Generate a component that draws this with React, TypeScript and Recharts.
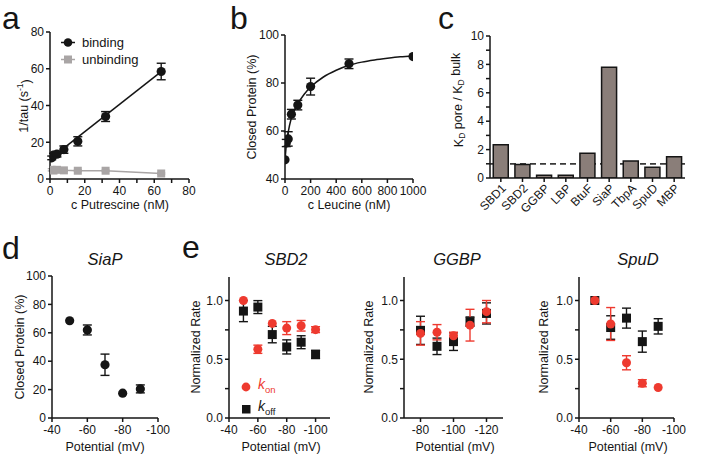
import React from 'react';
import {
  ComposedChart,
  Scatter,
  XAxis,
  YAxis,
  ErrorBar,
  BarChart,
  Bar,
  ReferenceLine,
  Legend,
} from 'recharts';

const FONT = '"Liberation Sans", Arial, Helvetica, sans-serif';
const INK = '#151515';
const RED = '#ee3a2f';
const GRAY = '#a9a5a5';
const BAR_FILL = '#8a7e79';

// ---------- Panel a: putrescine ----------
const putrescineNM = [1, 2, 4, 8, 16, 32, 64];
const bindingRate = [11.5, 13, 13.5, 16, 20.5, 34, 58.5];
const bindingErr = [1, 1, 1.5, 2, 2.5, 2.7, 4.5];
const unbindingRate = [5, 4.6, 5, 4.7, 4.5, 4.5, 3];
const unbindingErr = [0.6, 0.5, 0.5, 0.5, 0.4, 0.4, 0.4];
const bindingFitNM = [1, 64];
const bindingFitRate = [11.6, 58.4];
const putrescineTicks = [0, 10, 20, 30, 40, 50, 60, 70, 80];
const rateTicksA = [0, 20, 40, 60, 80];

// ---------- Panel b: leucine ----------
const leucineNM = [0, 10, 25, 50, 100, 200, 500, 1000];
const closedLeu = [48, 55, 56.7, 67, 70.8, 78.5, 88, 91];
const closedLeuErr = [0, 1.5, 3, 2, 2, 3.5, 2, 0];
const leuFitNM = [0, 10, 25, 50, 100, 150, 200, 300, 400, 500, 600, 700, 800, 900, 1000];
const leuFitClosed = [48, 54, 59.5, 65.5, 71.3, 75.3, 78.3, 82.5, 85.3, 87.4, 88.7, 89.6, 90.3, 90.9, 91.3];
const leucineTicks = [0, 200, 400, 600, 800, 1000];
const closedTicksB = [40, 60, 80, 100];

// ---------- Panel c: KD ratio ----------
const proteins = ['SBD1', 'SBD2', 'GGBP', 'LBP', 'BtuF', 'SiaP', 'TbpA', 'SpuD', 'MBP'];
const kdRatio = [2.35, 0.95, 0.2, 0.2, 1.75, 7.8, 1.2, 0.75, 1.5];
const kdTicks = [0, 1, 2, 3, 4, 5, 6, 7, 8, 9, 10];

// ---------- Panel d: SiaP ----------
const siapPotential = [-50, -60, -70, -80, -90];
const siapClosed = [68.5, 62, 37.5, 17.5, 20.5];
const siapErr = [0, 3.5, 7.5, 0, 2.8];
const potentialTicksD = [-40, -60, -80, -100];
const closedTicksD = [0, 20, 40, 60, 80, 100];

// ---------- Panel e ----------
const sbd2Potential = [-50, -60, -70, -80, -90, -100];
const sbd2Kon = [1.0, 0.585, 0.805, 0.765, 0.785, 0.752];
const sbd2KonErr = [0, 0.035, 0, 0.055, 0.045, 0.025];
const sbd2Koff = [0.91, 0.944, 0.71, 0.605, 0.645, 0.541];
const sbd2KoffErr = [0.09, 0.055, 0.07, 0.06, 0.055, 0.035];

const ggbpPotential = [-80, -90, -100, -110, -120];
const ggbpKon = [0.72, 0.73, 0.7, 0.79, 0.905];
const ggbpKonErr = [0.1, 0.065, 0.03, 0.135, 0.095];
const ggbpKoff = [0.746, 0.61, 0.65, 0.82, 0.89];
const ggbpKoffErr = [0.12, 0.07, 0.075, 0.04, 0.09];

const spudPotential = [-50, -60, -70, -80, -90];
const spudKon = [1.0, 0.8, 0.47, 0.296, 0.26];
const spudKonErr = [0, 0.14, 0.06, 0.03, 0];
const spudKoff = [1.0, 0.77, 0.85, 0.65, 0.78];
const spudKoffErr = [0, 0.1, 0.085, 0.09, 0.065];

const rateTicks = [0, 0.25, 0.5, 0.75, 1.0];
const rateMajor = [0, 0.5, 1.0];

// ---------- helpers ----------
type Pt = { x: number; y: number; e: number };
const zip = (xs: number[], ys: number[], es?: number[]): Pt[] =>
  xs.map((x, i) => ({ x, y: ys[i], e: es ? es[i] : 0 }));

type Rect = { x0: number; y0: number; x1: number; y1: number };
const YW = 34;
const PT = 10;
const PR = 18;
const PB = 4;
const PL = 0;
const boxFor = (r: Rect, xh: number) => ({
  left: r.x0 - YW - PL,
  top: r.y0 - PT,
  width: r.x1 - r.x0 + YW + PL + PR,
  height: r.y1 - r.y0 + PT + PB + xh,
});
const MARGIN = { top: PT, right: PR, bottom: PB, left: PL };

const axisLine = { stroke: INK, strokeWidth: 1.5 };
const tickLine = { stroke: INK, strokeWidth: 1.5 };
const tickStyle = { fontSize: 12, fill: INK, fontFamily: FONT };

const circleShape = (fill: string, r = 4.5) => (p: any) =>
  p.cx == null ? <g /> : <circle cx={p.cx} cy={p.cy} r={r} fill={fill} />;
const squareShape = (fill: string, s = 9) => (p: any) =>
  p.cx == null ? <g /> : <rect x={p.cx - s / 2} y={p.cy - s / 2} width={s} height={s} fill={fill} />;
const noShape = () => <g />;

// ---------- Panel a ----------
function PanelA() {
  const r: Rect = { x0: 50, y0: 32, x1: 189, y1: 179 };
  const b = boxFor(r, 24);
  const legend = () => (
    <div style={{ fontFamily: FONT, fontSize: 13, color: INK, lineHeight: '17px' }}>
      <div style={{ display: 'flex', alignItems: 'center' }}>
        <svg width={16} height={17}>
          <line x1={1} x2={15} y1={8.5} y2={8.5} stroke={INK} strokeWidth={1.5} />
          <circle cx={8} cy={8.5} r={4.3} fill={INK} />
        </svg>
        <span style={{ marginLeft: 6 }}>binding</span>
      </div>
      <div style={{ display: 'flex', alignItems: 'center' }}>
        <svg width={16} height={17}>
          <line x1={1} x2={15} y1={8.5} y2={8.5} stroke={GRAY} strokeWidth={1.5} />
          <rect x={4} y={4.5} width={8} height={8} fill={GRAY} />
        </svg>
        <span style={{ marginLeft: 6 }}>unbinding</span>
      </div>
    </div>
  );
  return (
    <div style={{ position: 'absolute', left: b.left, top: b.top }}>
      <ComposedChart width={b.width} height={b.height} margin={MARGIN}>
        <XAxis
          type="number"
          dataKey="x"
          domain={[0, 80]}
          ticks={putrescineTicks}
          interval={0}
          tickFormatter={(v: number) => (v % 20 === 0 ? String(v) : '')}
          height={24}
          tickSize={4}
          tickMargin={3}
          axisLine={axisLine}
          tickLine={tickLine}
          tick={tickStyle}
          allowDataOverflow
        />
        <YAxis
          type="number"
          dataKey="y"
          domain={[0, 80]}
          ticks={rateTicksA}
          interval={0}
          width={YW}
          tickSize={4}
          tickMargin={2}
          axisLine={axisLine}
          tickLine={tickLine}
          tick={tickStyle}
          allowDataOverflow
        />
        <Scatter
          data={zip(bindingFitNM, bindingFitRate)}
          line={{ stroke: INK, strokeWidth: 1.5 }}
          shape={noShape}
          isAnimationActive={false}
        />
        <Scatter
          data={zip(putrescineNM, unbindingRate, unbindingErr)}
          line={{ stroke: GRAY, strokeWidth: 1.5 }}
          fill={GRAY}
          shape={squareShape(GRAY, 8)}
          isAnimationActive={false}
        >
          <ErrorBar dataKey="e" direction="y" width={4} stroke={GRAY} strokeWidth={1.3} />
        </Scatter>
        <Scatter
          data={zip(putrescineNM, bindingRate, bindingErr)}
          fill={INK}
          shape={circleShape(INK, 4.6)}
          isAnimationActive={false}
        >
          <ErrorBar dataKey="e" direction="y" width={4.5} stroke={INK} strokeWidth={1.4} />
        </Scatter>
        <Legend
          layout="vertical"
          align="center"
          verticalAlign="middle"
          content={legend}
          wrapperStyle={{ left: 60 - b.left, top: 34 - b.top, width: 110 }}
        />
      </ComposedChart>
    </div>
  );
}

// ---------- Panel b ----------
function PanelB() {
  const r: Rect = { x0: 285, y0: 35, x1: 413, y1: 179 };
  const b = boxFor(r, 24);
  return (
    <div style={{ position: 'absolute', left: b.left, top: b.top }}>
      <ComposedChart width={b.width} height={b.height} margin={MARGIN}>
        <XAxis
          type="number"
          dataKey="x"
          domain={[0, 1000]}
          ticks={leucineTicks}
          interval={0}
          height={24}
          tickSize={4}
          tickMargin={3}
          axisLine={axisLine}
          tickLine={tickLine}
          tick={tickStyle}
          allowDataOverflow
        />
        <YAxis
          type="number"
          dataKey="y"
          domain={[40, 100]}
          ticks={closedTicksB}
          interval={0}
          width={YW}
          tickSize={4}
          tickMargin={2}
          axisLine={axisLine}
          tickLine={tickLine}
          tick={tickStyle}
          allowDataOverflow
        />
        <Scatter
          data={zip(leuFitNM, leuFitClosed)}
          line={{ stroke: INK, strokeWidth: 1.5 }}
          lineJointType="monotoneX"
          shape={noShape}
          isAnimationActive={false}
        />
        <Scatter
          data={zip(leucineNM, closedLeu, closedLeuErr)}
          fill={INK}
          shape={circleShape(INK, 4.6)}
          isAnimationActive={false}
        >
          <ErrorBar dataKey="e" direction="y" width={4.5} stroke={INK} strokeWidth={1.4} />
        </Scatter>
      </ComposedChart>
    </div>
  );
}

// ---------- Panel c ----------
const RotTick = (props: any) => {
  const { x, y, payload } = props;
  return (
    <text
      transform={`translate(${x + 3},${y + 2}) rotate(-45)`}
      x={0}
      y={0}
      dy="0.35em"
      textAnchor="end"
      fontSize={12}
      fill={INK}
      fontFamily={FONT}
    >
      {payload.value}
    </text>
  );
};

function PanelC() {
  const r: Rect = { x0: 490, y0: 36, x1: 685, y1: 178 };
  const xh = 50;
  const b = boxFor(r, xh);
  const data = proteins.map((name, i) => ({ name, v: kdRatio[i] }));
  return (
    <div style={{ position: 'absolute', left: b.left, top: b.top }}>
      <BarChart width={b.width} height={b.height} margin={MARGIN} data={data} barCategoryGap="15%">
        <XAxis
          dataKey="name"
          type="category"
          interval={0}
          height={xh}
          tickSize={4}
          tickMargin={2}
          axisLine={axisLine}
          tickLine={tickLine}
          tick={<RotTick />}
        />
        <YAxis
          type="number"
          domain={[0, 10]}
          ticks={kdTicks}
          interval={0}
          tickFormatter={(v: number) => (v % 2 === 0 ? String(v) : '')}
          width={YW}
          tickSize={4}
          tickMargin={2}
          axisLine={axisLine}
          tickLine={tickLine}
          tick={tickStyle}
          allowDataOverflow
        />
        <ReferenceLine y={1} stroke="#3a3a3a" strokeWidth={1.8} strokeDasharray="6 4" zIndex={0} />
        <Bar dataKey="v" fill={BAR_FILL} stroke={INK} strokeWidth={1.5} isAnimationActive={false} />
      </BarChart>
    </div>
  );
}

// ---------- Panel d ----------
function PanelD() {
  const r: Rect = { x0: 52, y0: 276, x1: 158, y1: 418 };
  const b = boxFor(r, 24);
  return (
    <div style={{ position: 'absolute', left: b.left, top: b.top }}>
      <ComposedChart width={b.width} height={b.height} margin={MARGIN}>
        <XAxis
          type="number"
          dataKey="x"
          domain={[-100, -40]}
          reversed
          ticks={potentialTicksD}
          interval={0}
          height={24}
          tickSize={4}
          tickMargin={3}
          axisLine={axisLine}
          tickLine={tickLine}
          tick={tickStyle}
          allowDataOverflow
        />
        <YAxis
          type="number"
          dataKey="y"
          domain={[0, 100]}
          ticks={closedTicksD}
          interval={0}
          width={YW}
          tickSize={4}
          tickMargin={2}
          axisLine={axisLine}
          tickLine={tickLine}
          tick={tickStyle}
          allowDataOverflow
        />
        <Scatter
          data={zip(siapPotential, siapClosed, siapErr)}
          fill={INK}
          shape={circleShape(INK, 4.6)}
          isAnimationActive={false}
        >
          <ErrorBar dataKey="e" direction="y" width={4.5} stroke={INK} strokeWidth={1.4} />
        </Scatter>
      </ComposedChart>
    </div>
  );
}

// ---------- Panel e ----------
type RateProps = {
  r: Rect;
  domain: [number, number];
  ticks: number[];
  xs: number[];
  kon: number[];
  konErr: number[];
  koff: number[];
  koffErr: number[];
  legend?: boolean;
};

function RatePanel({ r, domain, ticks, xs, kon, konErr, koff, koffErr, legend }: RateProps) {
  const b = boxFor(r, 24);
  const legendContent = () => (
    <div style={{ fontFamily: FONT, fontSize: 14, lineHeight: '16px' }}>
      <div style={{ display: 'flex', alignItems: 'center', color: RED }}>
        <svg width={10} height={16}>
          <circle cx={5} cy={8} r={4.4} fill={RED} />
        </svg>
        <span style={{ marginLeft: 7 }}>
          <i>k</i>
          <sub style={{ fontSize: 9.5 }}>on</sub>
        </span>
      </div>
      <div style={{ display: 'flex', alignItems: 'center', color: INK }}>
        <svg width={10} height={16}>
          <rect x={1} y={4} width={8.5} height={8.5} fill={INK} />
        </svg>
        <span style={{ marginLeft: 7 }}>
          <i>k</i>
          <sub style={{ fontSize: 9.5 }}>off</sub>
        </span>
      </div>
    </div>
  );
  return (
    <div style={{ position: 'absolute', left: b.left, top: b.top }}>
      <ComposedChart width={b.width} height={b.height} margin={MARGIN}>
        <XAxis
          type="number"
          dataKey="x"
          domain={domain}
          reversed
          ticks={ticks}
          interval={0}
          height={24}
          tickSize={4}
          tickMargin={3}
          axisLine={axisLine}
          tickLine={tickLine}
          tick={tickStyle}
          allowDataOverflow
        />
        <YAxis
          type="number"
          dataKey="y"
          domain={[0, 1.2]}
          ticks={rateTicks}
          interval={0}
          tickFormatter={(v: number) => (rateMajor.includes(v) ? v.toFixed(1) : '')}
          width={YW}
          tickSize={4}
          tickMargin={2}
          axisLine={axisLine}
          tickLine={tickLine}
          tick={tickStyle}
          allowDataOverflow
        />
        <Scatter data={zip(xs, koff, koffErr)} fill={INK} shape={squareShape(INK, 9)} isAnimationActive={false}>
          <ErrorBar dataKey="e" direction="y" width={4.5} stroke={INK} strokeWidth={1.4} />
        </Scatter>
        <Scatter data={zip(xs, kon, konErr)} fill={RED} shape={circleShape(RED, 4.5)} isAnimationActive={false}>
          <ErrorBar dataKey="e" direction="y" width={4.5} stroke={RED} strokeWidth={1.4} />
        </Scatter>
        {legend && (
          <Legend
            layout="vertical"
            align="center"
            verticalAlign="middle"
            content={legendContent}
            wrapperStyle={{ left: 241 - b.left, top: 376 - b.top, width: 60 }}
          />
        )}
      </ComposedChart>
    </div>
  );
}

// ---------- text overlay ----------
const YLabel = ({ x, y, children, size = 12.5 }: any) => (
  <text
    transform={`translate(${x},${y}) rotate(-90)`}
    textAnchor="middle"
    dominantBaseline="central"
    fontSize={size}
    fill={INK}
    fontFamily={FONT}
  >
    {children}
  </text>
);
const XLabel = ({ x, y, children, size = 12.5 }: any) => (
  <text x={x} y={y} textAnchor="middle" fontSize={size} fill={INK} fontFamily={FONT}>
    {children}
  </text>
);
const Title = ({ x, y, children }: any) => (
  <text x={x} y={y} textAnchor="middle" fontSize={16.5} fontStyle="italic" fill={INK} fontFamily={FONT}>
    {children}
  </text>
);
const Letter = ({ x, y, children }: any) => (
  <text x={x} y={y} fontSize={32} fill={INK} fontFamily={FONT}>
    {children}
  </text>
);

function Overlay() {
  return (
    <svg
      width={711}
      height={462}
      style={{ position: 'absolute', left: 0, top: 0, pointerEvents: 'none' }}
    >
      <Letter x={2} y={29}>a</Letter>
      <Letter x={230} y={29}>b</Letter>
      <Letter x={438} y={29}>c</Letter>
      <Letter x={2} y={259}>d</Letter>
      <Letter x={182} y={258}>e</Letter>

      <YLabel x={24} y={106}>
        <tspan>1/tau (s</tspan>
        <tspan dy="-0.45em" fontSize={8.5}>-1</tspan>
        <tspan dy="0.45em">)</tspan>
      </YLabel>
      <XLabel x={120} y={209}>c Putrescine (nM)</XLabel>

      <YLabel x={252} y={107}>Closed Protein (%)</YLabel>
      <XLabel x={349} y={209}>c Leucine (nM)</XLabel>

      <YLabel x={459} y={100}>
        <tspan>K</tspan>
        <tspan dy="0.35em" fontSize={8.5}>D</tspan>
        <tspan dy="-0.35em"> pore / K</tspan>
        <tspan dy="0.35em" fontSize={8.5}>D</tspan>
        <tspan dy="-0.35em"> bulk</tspan>
      </YLabel>

      <Title x={105} y={265}>SiaP</Title>
      <YLabel x={20} y={347}>Closed Protein (%)</YLabel>
      <XLabel x={105} y={451}>Potential (mV)</XLabel>

      <Title x={286} y={265}>SBD2</Title>
      <YLabel x={196} y={347}>Normalized Rate</YLabel>
      <XLabel x={281} y={451}>Potential (mV)</XLabel>

      <Title x={457} y={265}>GGBP</Title>
      <YLabel x={369} y={347}>Normalized Rate</YLabel>
      <XLabel x={455} y={451}>Potential (mV)</XLabel>

      <Title x={638} y={265}>SpuD</Title>
      <YLabel x={544} y={347}>Normalized Rate</YLabel>
      <XLabel x={628} y={451}>Potential (mV)</XLabel>
    </svg>
  );
}

export default function App() {
  return (
    <div
      style={{
        position: 'fixed',
        left: 0,
        top: 0,
        width: 711,
        height: 462,
        background: '#ffffff',
        fontFamily: FONT,
        overflow: 'hidden',
      }}
    >
      <PanelA />
      <PanelB />
      <PanelC />
      <PanelD />
      <RatePanel
        r={{ x0: 229, y0: 277, x1: 330, y1: 418 }}
        domain={[-110, -40]}
        ticks={[-40, -60, -80, -100]}
        xs={sbd2Potential}
        kon={sbd2Kon}
        konErr={sbd2KonErr}
        koff={sbd2Koff}
        koffErr={sbd2KoffErr}
        legend
      />
      <RatePanel
        r={{ x0: 404, y0: 277, x1: 503, y1: 418 }}
        domain={[-130, -70]}
        ticks={[-80, -100, -120]}
        xs={ggbpPotential}
        kon={ggbpKon}
        konErr={ggbpKonErr}
        koff={ggbpKoff}
        koffErr={ggbpKoffErr}
      />
      <RatePanel
        r={{ x0: 579, y0: 277, x1: 674, y1: 418 }}
        domain={[-100, -40]}
        ticks={[-40, -60, -80, -100]}
        xs={spudPotential}
        kon={spudKon}
        konErr={spudKonErr}
        koff={spudKoff}
        koffErr={spudKoffErr}
      />
      <Overlay />
    </div>
  );
}
